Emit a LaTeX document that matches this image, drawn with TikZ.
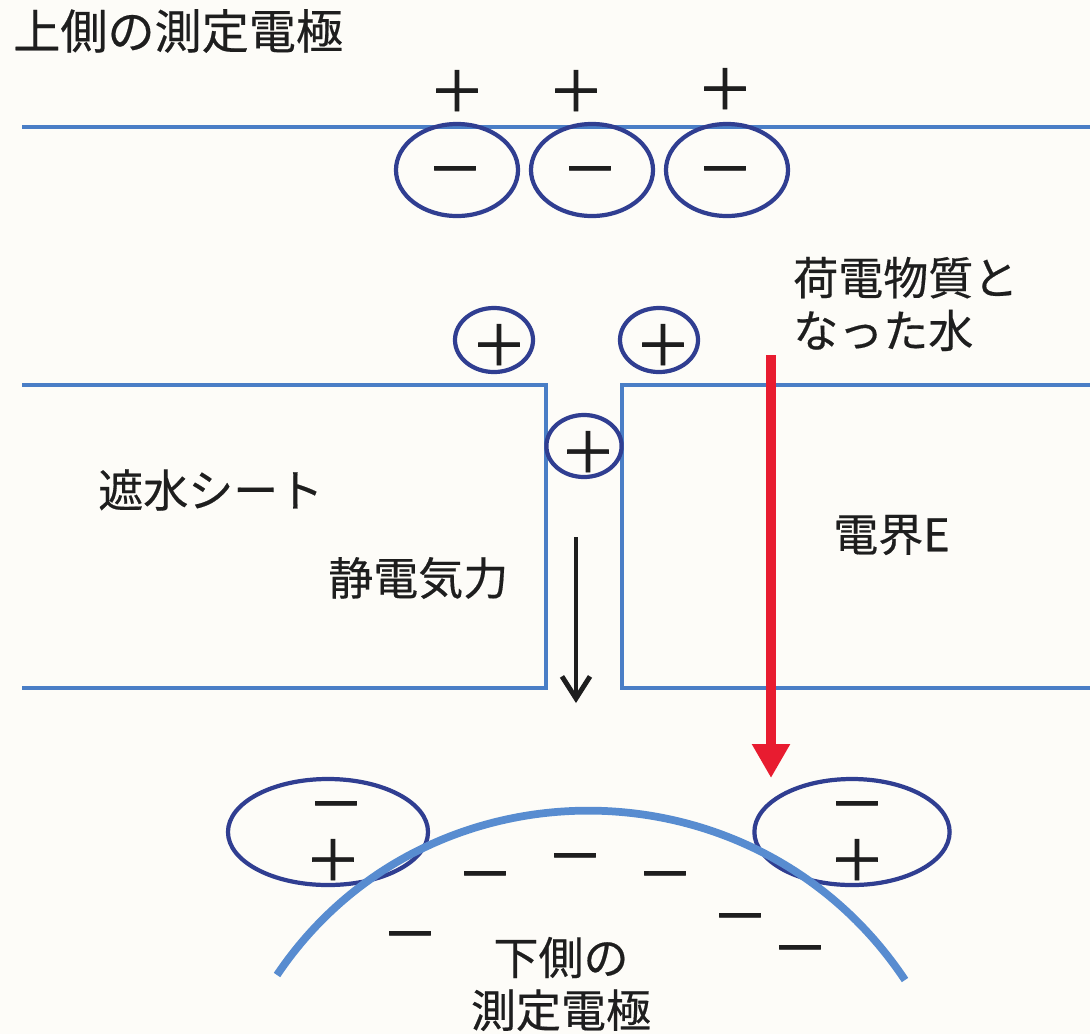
\documentclass[tikz,border=0pt]{standalone}
\usepackage{fontspec}
\setmainfont{Noto Sans CJK JP}[FakeBold=0.4]
\newfontfamily\signfont{Noto Sans CJK JP}[FakeBold=1.3]
\usetikzlibrary{arrows.meta,shapes.geometric}
\definecolor{sheetblue}{RGB}{74,126,198}
\definecolor{ionblue}{RGB}{48,62,145}
\definecolor{curveblue}{RGB}{88,140,208}
\definecolor{fieldred}{RGB}{232,28,48}
\definecolor{bgcream}{RGB}{253,252,248}
\definecolor{ink}{RGB}{30,30,30}
\begin{document}
\begin{tikzpicture}[x=0.025cm,y=-0.025cm,
  sheet/.style={draw=sheetblue,line width=3.3pt,line join=miter},
  ion/.style={ellipse,draw=ionblue,line width=3pt,inner sep=0pt},
  lbl/.style={inner sep=0pt,text=ink,font=\fontsize{32}{37.5}\selectfont},
  sign/.style={inner sep=0pt,text=ink,font=\signfont\fontsize{40}{40}\selectfont},
  neg/.style={sign,yshift=-0.25cm},
  electrode/.style={draw=curveblue,line width=5.5pt},
  forcearrow/.style={draw=ink,line width=3.5pt,-{Straight Barb[length=0.55cm,width=0.7cm]}},
  fieldarrow/.style={draw=fieldred,line width=7pt,-{Triangle[length=0.85cm,width=0.9cm]}}
  ]
\fill[bgcream] (0,0) rectangle (1090,1034);
\useasboundingbox (0,0) rectangle (1090,1034);

% title
\node[lbl,anchor=west,font=\fontsize{33.5}{38}\selectfont] (title) at (13,31) {上側の測定電極};

% upper electrode
\coordinate (ul) at (22,127);
\coordinate (ur) at (1095,127);
\draw[sheet] (ul) -- (ur);
\node[ion,minimum width=3.05cm,minimum height=2.3cm] (e1) at (457,170) {};
\node[ion,minimum width=3.05cm,minimum height=2.3cm] (e2) at (592,170) {};
\node[ion,minimum width=3.05cm,minimum height=2.3cm] (e3) at (727,170) {};
\node[neg] (m1) at (455,168) {－};
\node[neg] (m2) at (590,168) {－};
\node[neg] (m3) at (725,168) {－};
\node[sign] (p1) at (457,91) {＋};
\node[sign] (p2) at (576,91) {＋};
\node[sign] (p3) at (725,89) {＋};

% charged water label
\node[lbl,anchor=west,align=left] (water) at (793,304) {荷電物質と\\なった水};

% water-proof sheet
\draw[sheet] (22,385) -- (546,385) -- (546,688) -- (22,688);
\draw[sheet] (1095,385) -- (622,385) -- (622,688) -- (1095,688);
\node[ion,minimum width=1.95cm,minimum height=1.6cm] (q1) at (494,340) {};
\node[ion,minimum width=1.95cm,minimum height=1.6cm] (q2) at (659,340) {};
\node[ion,minimum width=1.88cm,minimum height=1.55cm] (q3) at (584,446) {};
\node[sign] (qp1) at (499,345) {＋};
\node[sign] (qp2) at (663,345) {＋};
\node[sign] (qp3) at (588,452) {＋};

\node[lbl,anchor=west] (sheetlbl) at (98,490) {遮水シート};
\node[lbl,anchor=west] (forcelbl) at (328,578) {静電気力};
\node[lbl,anchor=west] (fieldlbl) at (833,535) {電界E};

% arrows
\coordinate (fs) at (576,537);
\coordinate (fe) at (576,703);
\draw[forcearrow] (fs) -- (fe);
\coordinate (rs) at (771,355);
\coordinate (re) at (771,778);
\draw[fieldarrow] (rs) -- (re);

% lower electrode
\node[ion,minimum width=5cm,minimum height=2.65cm] (b1) at (328,832) {};
\node[ion,minimum width=4.88cm,minimum height=2.65cm] (b2) at (852,832) {};
\node[neg] (bm1) at (336,803) {－};
\node[sign] (bp1) at (333,860) {＋};
\node[neg] (bm2) at (857,803) {－};
\node[sign] (bp2) at (857,860) {＋};
\coordinate (cl) at (277,975);
\coordinate (cr) at (905,980);
\draw[electrode] (cl) .. controls (425,755) and (755,755) .. (cr);
\node[neg] (n1) at (485,873) {－};
\node[neg] (n2) at (575,855) {－};
\node[neg] (n3) at (665,873) {－};
\node[neg] (n4) at (410,933) {－};
\node[neg] (n5) at (740,915) {－};
\node[neg] (n6) at (800,947) {－};
\node[lbl,align=center] (lowerlbl) at (561,984) {下側の\\測定電極};
\end{tikzpicture}
\end{document}
